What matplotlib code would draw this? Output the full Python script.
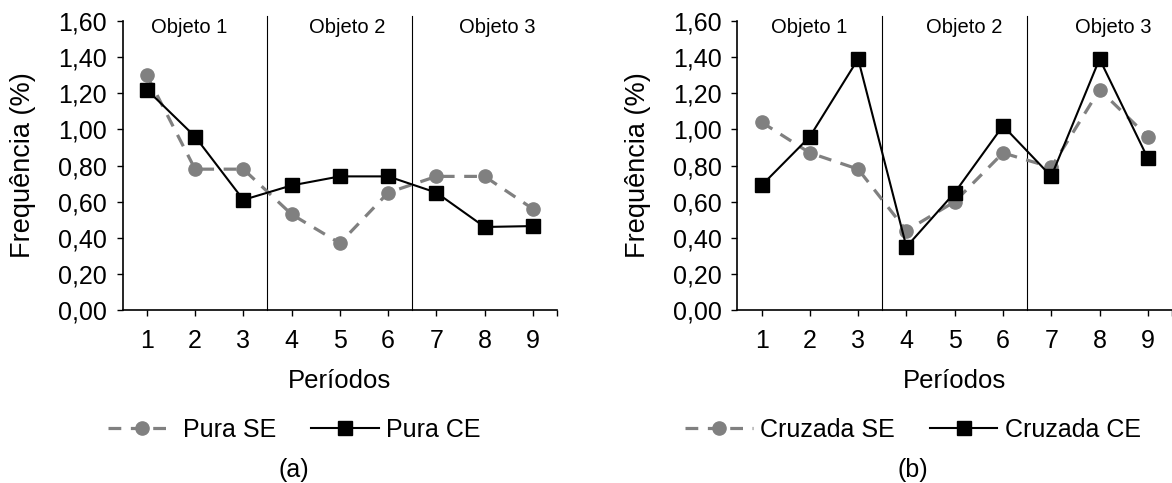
import matplotlib
matplotlib.use("Agg")
import matplotlib.pyplot as plt

plt.rcParams['font.family'] = ['Liberation Sans', 'DejaVu Sans']

# dados
periodos = [1, 2, 3, 4, 5, 6, 7, 8, 9]
pura_se = [1.30, 0.78, 0.78, 0.53, 0.37, 0.65, 0.74, 0.74, 0.56]
pura_ce = [1.22, 0.96, 0.61, 0.69, 0.74, 0.74, 0.65, 0.46, 0.465]
cruzada_se = [1.04, 0.87, 0.78, 0.44, 0.60, 0.87, 0.79, 1.22, 0.96]
cruzada_ce = [0.69, 0.96, 1.39, 0.35, 0.65, 1.02, 0.74, 1.39, 0.84]
yticks = [0.0, 0.2, 0.4, 0.6, 0.8, 1.0, 1.2, 1.4, 1.6]
objetos = ["Objeto 1", "Objeto 2", "Objeto 3"]

fig = plt.figure(figsize=(11.72, 4.83), dpi=100)
ax1 = fig.add_axes([0.1047, 0.358, 0.3706, 0.5985])
ax2 = fig.add_axes([0.6292, 0.358, 0.3708, 0.5985])


def painel(ax, se, ce, nome_se, nome_ce, obj_x, leg_x, letra):
    ax.plot(periodos, se, color='#808080', lw=2.3, ls=(0, (4, 3)),
            marker='o', ms=9.5, label=nome_se, zorder=3)
    ax.plot(periodos, ce, color='black', lw=1.5,
            marker='s', ms=10.5, label=nome_ce, zorder=4)

    # divisórias entre objetos
    for xv in [3.5, 6.5]:
        ax.plot([xv, xv], [0, 1.625], color='black', lw=0.8,
                clip_on=False, zorder=2)
    for xo, txt in zip(obj_x, objetos):
        ax.text(xo, 1.563, txt, ha='center', va='center', fontsize=14.5)

    ax.set_xlim(0.5, 9.5)
    ax.set_ylim(0, 1.6)
    ax.set_xticks(periodos + [9.5])
    ax.set_xticklabels([str(p) for p in periodos] + [''])
    ax.set_yticks(yticks)
    ax.set_yticklabels([f"{v:.2f}".replace('.', ',') for v in yticks])
    ax.tick_params(axis='both', labelsize=18, direction='out', length=4.5,
                   width=1.0)
    ax.tick_params(axis='x', pad=9)
    ax.tick_params(axis='y', pad=7)
    ax.spines['top'].set_visible(False)
    ax.spines['right'].set_visible(False)
    for s in ['left', 'bottom']:
        ax.spines[s].set_linewidth(1.2)

    ax.set_ylabel("Frequência (%)", fontsize=19.5)
    ax.yaxis.set_label_coords(-0.200, 0.5)
    ax.set_xlabel("Períodos", fontsize=18.5)
    ax.xaxis.set_label_coords(0.5, -0.205)

    ax.legend(loc='center', bbox_to_anchor=(leg_x, 0.110),
              bbox_transform=fig.transFigure, ncol=2, frameon=False,
              fontsize=18, handlelength=2.7, handletextpad=0.3,
              columnspacing=1.4)
    fig.text(leg_x, 0.027, letra, ha='center', va='center', fontsize=18)


painel(ax1, pura_se, pura_ce, "Pura SE", "Pura CE",
       [1.88, 5.16, 8.26], 0.251, "(a)")
painel(ax2, cruzada_se, cruzada_ce, "Cruzada SE", "Cruzada CE",
       [1.98, 5.19, 8.28], 0.779, "(b)")

fig.savefig("out.png", dpi=100)
